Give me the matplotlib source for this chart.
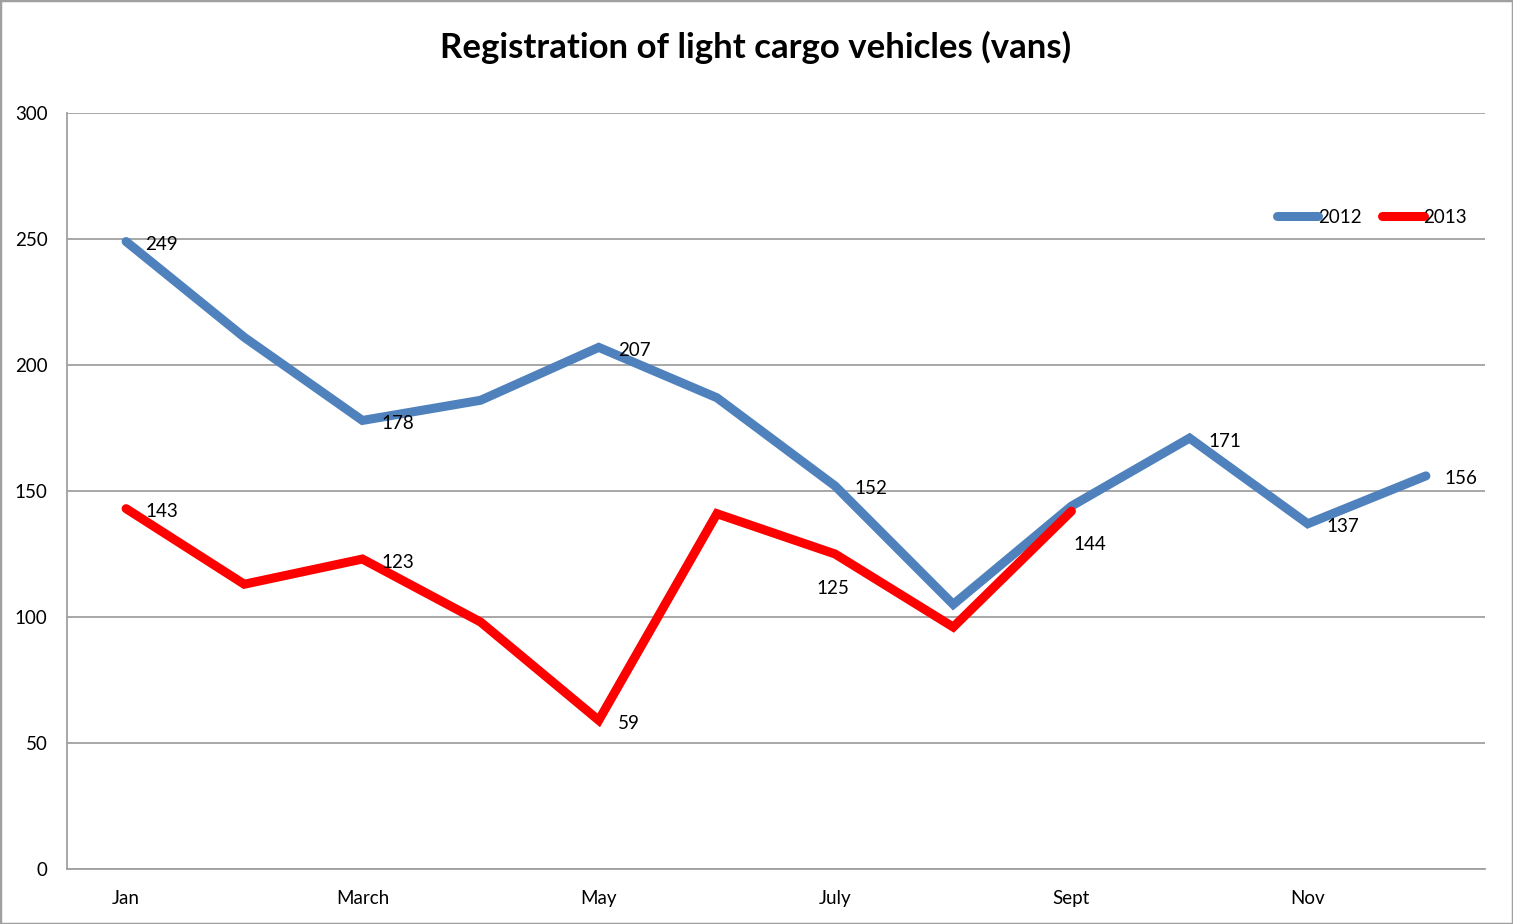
import matplotlib
matplotlib.use("Agg")
import matplotlib.pyplot as plt
from matplotlib.patches import Rectangle

months = ["Jan", "Feb", "March", "Apr", "May", "Jun", "July", "Aug", "Sept", "Oct", "Nov", "Dec"]
tick_labels = ["Jan", "", "March", "", "May", "", "July", "", "Sept", "", "Nov", ""]
v2012 = [249, 211, 178, 186, 207, 187, 152, 105, 144, 171, 137, 156]
v2013 = [143, 113, 123, 98, 59, 141, 125, 96, 142]
labels2012 = {0: "249", 2: "178", 4: "207", 6: "152", 8: "144", 9: "171", 10: "137", 11: "156"}
labels2013 = {0: "143", 2: "123", 4: "59", 6: "125"}

plt.rcParams['font.family'] = ['Lato', 'DejaVu Sans']

W, H = 1513, 924
fig = plt.figure(figsize=(W / 100, H / 100), dpi=100)
ax = fig.add_axes([67 / W, (H - 869) / H, (1485 - 67) / W, (869 - 113) / H])

x = list(range(len(months)))
blue = "#4f81bd"
red = "#ff0000"
ax.plot(x, v2012, color=blue, lw=6.5, solid_capstyle='round', solid_joinstyle='miter', label="2012", zorder=3)
ax.plot(x[:len(v2013)], v2013, color=red, lw=6.5, solid_capstyle='round', solid_joinstyle='miter', label="2013", zorder=4)

fs = 13.5
ax.set_xlim(-0.5, 11.5)
ax.set_ylim(0, 300)
ax.set_yticks(range(0, 301, 50))
ax.set_xticks(x)
ax.set_xticklabels(tick_labels)
ax.tick_params(axis='x', length=0, pad=15, labelsize=fs)
ax.tick_params(axis='y', length=0, pad=14, labelsize=fs)
ax.grid(axis='y', color='#a0a0a0', lw=1.3)
ax.set_axisbelow(True)
for s in ['top', 'right']:
    ax.spines[s].set_visible(False)
for s in ['left', 'bottom']:
    ax.spines[s].set_color('#a0a0a0')
    ax.spines[s].set_linewidth(1.3)

def lab(i, v, txt, dx=19, dy=-3, ha='left'):
    ax.annotate(txt, (i, v), xytext=(dx, dy), textcoords='offset pixels',
                ha=ha, va='center', fontsize=fs, zorder=5)

for i, t in labels2012.items():
    if i == 8:
        lab(i, v2012[i], t, dx=2, dy=-38)
    else:
        lab(i, v2012[i], t)
for i, t in labels2013.items():
    if i == 6:
        lab(i, v2013[i], t, dx=-19, dy=-34)
    else:
        lab(i, v2013[i], t)

leg = ax.legend(loc='upper right', bbox_to_anchor=(1484 / W, (H - 192) / H), bbox_transform=fig.transFigure,
                ncol=2, frameon=False, handlelength=2.2, handletextpad=0.0, columnspacing=1.1, fontsize=fs)

fig.text(756 / W, (H - 47) / H, "Registration of light cargo vehicles (vans)", ha='center', va='center',
         fontsize=25, fontweight='bold')

fig.patches.append(Rectangle((0, 0), 1, 1, transform=fig.transFigure, fill=False,
                             edgecolor='#a0a0a0', lw=2.5, zorder=10))

fig.savefig("out.png", dpi=100)
